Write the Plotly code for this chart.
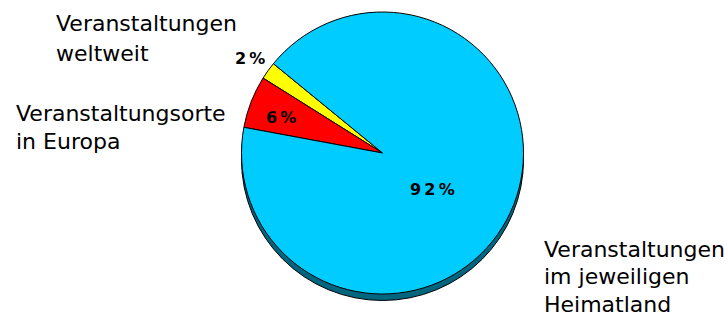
import plotly.graph_objects as go

# Data
categories = ["Veranstaltungen weltweit", "Veranstaltungsorte in Europa", "Veranstaltungen im jeweiligen Heimatland"]
label_lines = [["Veranstaltungen", "weltweit"], ["Veranstaltungsorte", "in Europa"], ["Veranstaltungen", "im jeweiligen", "Heimatland"]]
values = [2, 6, 92]
colors = ["#FFFF00", "#FF0000", "#00CCFF"]

W, H = 727, 320
cx, cy, r = 382.5, 153.0, 141.0
shadow_dy = 6.5

def px_dom(x0, x1, y0, y1):
    return dict(x=[x0 / W, x1 / W], y=[1 - y1 / H, 1 - y0 / H])

pct_text = ["\u2009".join(list(f"{v}%")) for v in values]

fig = go.Figure()
# shadow pie (3D rim)
fig.add_trace(go.Pie(
    values=[sum(values)], labels=["shadow"], sort=False,
    marker=dict(colors=["#006680"], line=dict(color="#000000", width=1)),
    textinfo="none", hoverinfo="skip", showlegend=False,
    domain=px_dom(cx - r, cx + r, cy - r + shadow_dy, cy + r + shadow_dy),
))
fig.add_trace(go.Pie(
    values=values, labels=categories, sort=False, direction="counterclockwise",
    rotation=-57.9,
    marker=dict(colors=colors, line=dict(color="#000000", width=1)),
    textinfo="none", showlegend=False,
    domain=px_dom(cx - r, cx + r, cy - r, cy + r),
))

annotations = []
# category labels, one annotation per line: (left x, baseline y of each line)
label_pos = [(55, [32, 62]), (15, [121, 149]), (543, [257, 284, 312])]
for lines, (x, baselines) in zip(label_lines, label_pos):
    for line, b in zip(lines, baselines):
        annotations.append(dict(
            text=line, x=x / W, y=1 - (b - 8) / H, xref="paper", yref="paper",
            xanchor="left", yanchor="middle", align="left", showarrow=False, borderpad=0,
            font=dict(family="DejaVu Sans", size=22, color="#000000"),
        ))

# percentage labels (centres)
pct_pos = [(250, 58), (281, 117.5), (432.5, 189)]
for t, (x, y) in zip(pct_text, pct_pos):
    annotations.append(dict(
        text=t, x=x / W, y=1 - y / H, xref="paper", yref="paper",
        xanchor="center", yanchor="middle", showarrow=False, borderpad=0,
        font=dict(family="DejaVu Sans", size=16, color="#000000", weight="bold"),
    ))

fig.update_layout(
    width=W, height=H, margin=dict(l=0, r=0, t=0, b=0),
    paper_bgcolor="#FFFFFF", plot_bgcolor="#FFFFFF",
    annotations=annotations, showlegend=False,
)
fig.write_html("out.html")
